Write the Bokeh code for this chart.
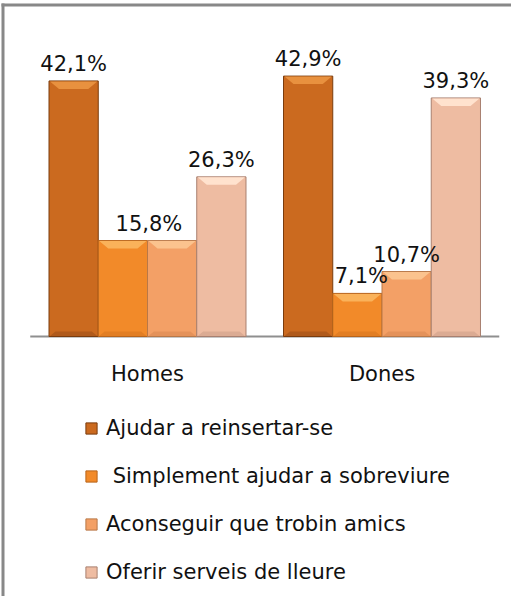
from bokeh.plotting import figure
from bokeh.models import Range1d, LinearAxis, FixedTicker, Legend, LegendItem, ColumnDataSource
from bokeh.core.properties import value
from bokeh.embed import file_html
from bokeh.resources import INLINE

# ---------------- data ----------------
categories = ["Homes", "Dones"]
series_names = [
    "Ajudar a reinsertar-se",
    " Simplement ajudar a sobreviure",
    "Aconseguir que trobin amics",
    "Oferir serveis de lleure",
]
ajudar_reinsertar = [42.1, 42.9]
ajudar_sobreviure = [15.8, 7.1]
trobin_amics = [15.8, 10.7]
serveis_lleure = [26.3, 39.3]
series_values = [ajudar_reinsertar, ajudar_sobreviure, trobin_amics, serveis_lleure]

# ---------------- styles ----------------
FONT = "DejaVu Sans"
fills = ["#CB6A1F", "#F28A29", "#F3A066", "#EEBCA2"]
outlines = ["#7A3C0E", "#B8641A", "#B87848", "#A88070"]
highlights = ["#E8913F", "#FAB25A", "#FBC38E", "#FFE2CE"]
bottoms = ["#A9561A", "#DD7A22", "#E08E58", "#D6A690"]
bar_offsets = [-0.315, -0.105, 0.105, 0.315]
bar_width = 0.21
# label horizontal shifts in pixels (None -> label not shown, hidden behind neighbour)
label_shift_px = [[0, 0], [26, 4], [None, 0], [0, 0]]

# ---------------- geometry ----------------
W, H = 511, 596
XPX, YPX = 234.5, 6.07          # pixels per x unit / per percentage point
first_cat_px, base_px = 147, 336
x_start = 1 - first_cat_px / XPX
x_end = x_start + W / XPX
y_end = base_px / YPX
y_start = y_end - H / YPX

p = figure(width=W, height=H, x_range=Range1d(x_start, x_end), y_range=Range1d(y_start, y_end),
           output_backend="svg", toolbar_location=None,
           x_axis_location=None, y_axis_location=None, min_border=0,
           outline_line_color=None, background_fill_color="white", border_fill_color="white")
for g in p.grid:
    g.visible = False

cat_x = [i + 1 for i in range(len(categories))]

# chart-area border (left and top visible)
bx = x_start + 2.5 / XPX
by = y_end - 4.5 / YPX
p.segment(x0=[bx, x_start + 1 / XPX], y0=[y_end - 3 / YPX, by], x1=[bx, x_end], y1=[y_start, by],
          line_color="#888888", line_width=3)

# category axis line
p.segment(x0=[cat_x[0] - 0.5], y0=[0], x1=[cat_x[-1] + 0.5], y1=[0], line_color="#8f8f8f", line_width=2)

items = []
lab_x, lab_y, lab_t, lab_dx = [], [], [], []
e = 1.0 / XPX
inset = 9.0 / XPX
hband = 8.0 / YPX
bband = 5.0 / YPX
for k, vals in enumerate(series_values):
    xs = [cx + bar_offsets[k] for cx in cat_x]
    src = ColumnDataSource(dict(x=xs, top=vals, cat=categories))
    r = p.vbar(x="x", top="top", bottom=0, width=bar_width, source=src,
               fill_color=fills[k], line_color=outlines[k], line_width=1)
    # top bevel highlight
    pxs, pys, bxs, bys = [], [], [], []
    for x, t in zip(xs, vals):
        l, rr = x - bar_width / 2 + e, x + bar_width / 2 - e
        pxs.append([l, rr, rr - inset, l + inset])
        pys.append([t - 0.5 / YPX, t - 0.5 / YPX, t - hband, t - hband])
        bxs.append([l, rr, rr - inset * 0.6, l + inset * 0.6])
        bys.append([0.5 / YPX, 0.5 / YPX, bband, bband])
    p.patches(xs=pxs, ys=pys, fill_color=highlights[k], line_color=None)
    p.patches(xs=bxs, ys=bys, fill_color=bottoms[k], line_color=None, fill_alpha=0.8)
    items.append(LegendItem(label=series_names[k], renderers=[r]))
    for j, (x, t) in enumerate(zip(xs, vals)):
        if label_shift_px[k][j] is None:
            continue
        lab_x.append(x)
        lab_y.append(t)
        lab_t.append(f"{t:.1f}".replace(".", ",") + "%")
        lab_dx.append(label_shift_px[k][j])

lsrc = ColumnDataSource(dict(x=lab_x, y=lab_y, text=lab_t, dx=lab_dx))
p.text(x="x", y="y", text="text", x_offset="dx", y_offset=-17, source=lsrc,
       text_font=value(FONT), text_font_size="21px", text_color="#111111",
       text_align="center", text_baseline="alphabetic")

ax = LinearAxis(ticker=FixedTicker(ticks=cat_x),
                major_label_overrides={c: n for c, n in zip(cat_x, categories)},
                fixed_location=0, axis_line_color=None,
                major_tick_line_color=None, minor_tick_line_color=None,
                major_tick_in=0, major_tick_out=0, major_label_standoff=25,
                major_label_text_font=FONT, major_label_text_font_size="21px",
                major_label_text_color="#111111")
p.add_layout(ax, "below")

legend = Legend(items=items, location=(84, 11), orientation="vertical",
                label_text_font=FONT, label_text_font_size="21px", label_text_color="#111111",
                glyph_width=14, glyph_height=14, label_standoff=8, label_height=26,
                spacing=22, padding=0, margin=0,
                border_line_color=None, background_fill_alpha=0)
p.add_layout(legend)

open("out.html", "w").write(file_html(p, INLINE))
